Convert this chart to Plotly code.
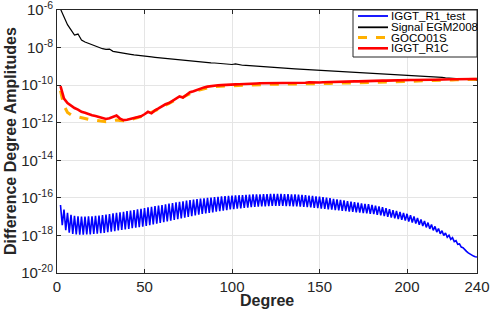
import plotly.graph_objects as go

# degrees sampled every 2 (for the smooth series)
deg_even = list(range(2, 241, 2))
deg_odd = list(range(3, 240, 2))

# log10 of degree amplitudes
signal_egm2008 = [-5.95, -6.4, -6.78, -7.06, -7.33, -7.28, -7.6, -7.7, -7.78, -7.86,
                  -7.92, -8.0, -8.06, -8.1, -8.08, -8.2, -8.24, -8.28, -8.3, -8.33,
                  -8.36, -8.39, -8.42, -8.45, -8.47, -8.49, -8.5, -8.52, -8.54, -8.56,
                  -8.58, -8.6, -8.62, -8.63, -8.65, -8.68, -8.7, -8.72, -8.74, -8.75,
                  -8.77, -8.78, -8.8, -8.81, -8.82, -8.84, -8.85, -8.87, -8.88, -8.9,
                  -8.87, -8.92, -8.94, -8.95, -8.97, -8.98, -8.99, -9.01, -9.02, -9.03,
                  -9.04, -9.06, -9.07, -9.08, -9.09, -9.1, -9.12, -9.13, -9.14, -9.15,
                  -9.16, -9.17, -9.18, -9.19, -9.2, -9.21, -9.22, -9.23, -9.24, -9.25,
                  -9.27, -9.28, -9.29, -9.3, -9.31, -9.32, -9.33, -9.34, -9.35, -9.36,
                  -9.37, -9.38, -9.39, -9.4, -9.42, -9.43, -9.44, -9.45, -9.46, -9.47,
                  -9.49, -9.5, -9.51, -9.52, -9.53, -9.55, -9.56, -9.57, -9.58, -9.59,
                  -9.61, -9.62, -9.63, -9.64, -9.65, -9.67, -9.68, -9.7, -9.72, -9.75]

iggt_r1c = [-10.05, -10.72, -10.95, -11.08, -11.22, -11.3, -11.42, -11.47, -11.55, -11.6,
            -11.64, -11.7, -11.74, -11.8, -11.76, -11.68, -11.62, -11.78, -11.86, -11.84,
            -11.8, -11.74, -11.7, -11.66, -11.55, -11.42, -11.5, -11.34, -11.24, -11.12,
            -11.02, -10.95, -10.84, -10.74, -10.6, -10.66, -10.5, -10.38, -10.32, -10.24,
            -10.2, -10.12, -10.08, -10.05, -10.03, -10.01, -10.0, -9.98, -9.99, -9.97,
            -9.96, -9.95, -9.95, -9.93, -9.94, -9.92, -9.91, -9.9, -9.9, -9.88,
            -9.89, -9.87, -9.88, -9.87, -9.86, -9.88, -9.87, -9.86, -9.87, -9.86,
            -9.87, -9.85, -9.86, -9.85, -9.86, -9.85, -9.84, -9.85, -9.84, -9.83,
            -9.84, -9.82, -9.82, -9.81, -9.8, -9.8, -9.79, -9.79, -9.78, -9.78,
            -9.77, -9.77, -9.76, -9.76, -9.75, -9.75, -9.75, -9.74, -9.74, -9.74,
            -9.73, -9.73, -9.72, -9.72, -9.72, -9.71, -9.71, -9.71, -9.7, -9.7,
            -9.7, -9.69, -9.69, -9.69, -9.68, -9.68, -9.68, -9.67, -9.67, -9.67]

goco01s = [-10.3, -11.1, -11.45, -11.58, -11.65, -11.7, -11.74, -11.78, -11.82, -11.85,
           -11.88, -11.92, -11.94, -11.95, -11.93, -11.9, -11.86, -11.88, -11.9, -11.88,
           -11.84, -11.78, -11.74, -11.68, -11.6, -11.5, -11.45, -11.38, -11.28, -11.16,
           -11.06, -10.98, -10.88, -10.78, -10.68, -10.64, -10.54, -10.43, -10.36, -10.29,
           -10.24, -10.17, -10.13, -10.1, -10.08, -10.06, -10.05, -10.04, -10.04, -10.03,
           -10.02, -10.01, -10.01, -10.0, -10.0, -9.99, -9.98, -9.97, -9.97, -9.96,
           -9.96, -9.95, -9.95, -9.95, -9.94, -9.95, -9.94, -9.94, -9.94, -9.93,
           -9.93, -9.92, -9.92, -9.92, -9.92, -9.91, -9.91, -9.91, -9.9, -9.9,
           -9.9, -9.89, -9.89, -9.88, -9.88, -9.87, -9.87, -9.86, -9.86, -9.85,
           -9.85, -9.84, -9.84, -9.83, -9.83, -9.82, -9.82, -9.81, -9.81, -9.8,
           -9.8, -9.79, -9.78, -9.78, -9.77, -9.76, -9.76, -9.75, -9.74, -9.74,
           -9.73, -9.72, -9.72, -9.71, -9.71, -9.7, -9.7, -9.69, -9.69, -9.69]

# IGGT_R1_test: even degrees (upper teeth) and odd degrees (lower teeth)
iggt_test_even = [-16.38, -16.62, -16.8, -16.9, -16.96, -16.99, -17.0, -17.0, -16.99, -16.98,
                  -16.96, -16.94, -16.92, -16.89, -16.86, -16.83, -16.8, -16.77, -16.74, -16.71,
                  -16.68, -16.65, -16.61, -16.58, -16.55, -16.51, -16.48, -16.44, -16.41, -16.38,
                  -16.35, -16.31, -16.28, -16.24, -16.21, -16.18, -16.15, -16.12, -16.09, -16.06,
                  -16.04, -16.02, -16.0, -15.98, -15.96, -15.94, -15.92, -15.91, -15.89, -15.88,
                  -15.87, -15.86, -15.85, -15.84, -15.83, -15.82, -15.81, -15.81, -15.8, -15.8,
                  -15.79, -15.79, -15.79, -15.79, -15.8, -15.8, -15.81, -15.82, -15.83, -15.84,
                  -15.86, -15.88, -15.9, -15.92, -15.94, -15.96, -15.99, -16.02, -16.05, -16.08,
                  -16.11, -16.14, -16.17, -16.2, -16.23, -16.26, -16.29, -16.32, -16.34, -16.37,
                  -16.41, -16.45, -16.5, -16.55, -16.6, -16.65, -16.7, -16.75, -16.8, -16.85,
                  -16.92, -16.99, -17.07, -17.15, -17.23, -17.32, -17.42, -17.52, -17.63, -17.75,
                  -17.87, -17.99, -18.12, -18.28, -18.45, -18.65, -18.85, -19.0, -19.1, -19.15]

iggt_test_odd = [-17.45, -17.72, -17.85, -17.92, -17.95, -17.96, -17.96, -17.95, -17.94, -17.92,
                 -17.9, -17.88, -17.86, -17.83, -17.8, -17.77, -17.74, -17.71, -17.68, -17.65,
                 -17.62, -17.59, -17.56, -17.53, -17.49, -17.45, -17.41, -17.37, -17.33, -17.29,
                 -17.25, -17.21, -17.17, -17.13, -17.09, -17.05, -17.01, -16.97, -16.93, -16.89,
                 -16.86, -16.83, -16.8, -16.77, -16.74, -16.71, -16.68, -16.65, -16.62, -16.6,
                 -16.58, -16.56, -16.54, -16.52, -16.5, -16.48, -16.47, -16.46, -16.45, -16.44,
                 -16.43, -16.43, -16.43, -16.43, -16.44, -16.44, -16.45, -16.46, -16.47, -16.48,
                 -16.5, -16.51, -16.53, -16.55, -16.57, -16.59, -16.61, -16.63, -16.65, -16.67,
                 -16.69, -16.71, -16.73, -16.75, -16.77, -16.79, -16.81, -16.83, -16.85, -16.87,
                 -16.9, -16.93, -16.97, -17.01, -17.05, -17.09, -17.13, -17.17, -17.21, -17.26,
                 -17.31, -17.37, -17.43, -17.5, -17.57, -17.65, -17.73, -17.82, -17.91, -18.0,
                 -18.1, -18.21, -18.33, -18.47, -18.62, -18.78, -18.93, -19.05, -19.13]

x_tick_vals = [0, 50, 100, 150, 200, 240]
y_tick_exps = [-20, -18, -16, -14, -12, -10, -8, -6]
legend_names = ["IGGT_R1_test", "Signal EGM2008", "GOCO01S", "IGGT_R1C"]
colors = ["#0000FF", "#000000", "#FFB000", "#FF0000"]
widths = [1.6, 1.2, 3, 2.6]
dashes = ["solid", "solid", "dash", "solid"]

# interleave even/odd degrees of the test series
test_deg, test_val = [], []
for i, d in enumerate(deg_even):
    test_deg.append(d)
    test_val.append(10 ** iggt_test_even[i])
    if i < len(deg_odd):
        test_deg.append(deg_odd[i])
        test_val.append(10 ** iggt_test_odd[i])

pw = lambda arr: [10 ** v for v in arr]
series_x = [test_deg, deg_even, deg_even, deg_even]
series_y = [test_val, pw(signal_egm2008), pw(goco01s), pw(iggt_r1c)]

fig = go.Figure()
for name, xs, ys, c, w, d in zip(legend_names, series_x, series_y, colors, widths, dashes):
    fig.add_trace(go.Scatter(x=xs, y=ys, mode="lines", name=name,
                             line=dict(color=c, width=w, dash=d), showlegend=False))

font_family = "Liberation Sans, Arial, sans-serif"
axis_col = "#262626"

# plot area geometry in pixels (for the hand-drawn legend box)
L, R, T, B = 57, 477, 10, 273
PW, PH = R - L, B - T
px = lambda v: (v - L) / PW
py = lambda v: (B - v) / PH

shapes = [dict(type="rect", xref="paper", yref="paper",
               x0=px(353), x1=1.0, y0=py(57), y1=1.0,
               line=dict(color=axis_col, width=1), fillcolor="white", layer="above")]
annotations = []
entry_y = [16, 27.3, 37.6, 48.3]
for name, c, w, d, ey in zip(legend_names, colors, widths, dashes, entry_y):
    shapes.append(dict(type="line", xref="paper", yref="paper",
                       x0=px(358), x1=px(388), y0=py(ey), y1=py(ey),
                       line=dict(color=c, width=w if w > 2 else 1.8, dash=d), layer="above"))
    annotations.append(dict(text=name, xref="paper", yref="paper", x=px(389), y=py(ey),
                            xanchor="left", yanchor="middle", showarrow=False,
                            font=dict(size=11.5, color="#000000", family=font_family)))

annotations.append(dict(text="<b>Degree</b>", xref="paper", yref="paper",
                        x=0.5, y=py(300), xanchor="center", yanchor="middle", showarrow=False,
                        font=dict(size=16, color=axis_col, family=font_family)))
annotations.append(dict(text="<b>Difference Degree Amplitudes</b>", xref="paper", yref="paper",
                        x=px(10), y=py(141), xanchor="center", yanchor="middle", showarrow=False,
                        textangle=-90,
                        font=dict(size=16, color=axis_col, family=font_family)))

fig.update_layout(
    width=491, height=311,
    margin=dict(l=L, r=491 - R, t=T, b=311 - B, autoexpand=False),
    paper_bgcolor="white", plot_bgcolor="white",
    font=dict(family=font_family, size=15, color=axis_col),
    showlegend=False,
    shapes=shapes, annotations=annotations,
)
fig.update_xaxes(range=[0, 240], tickvals=x_tick_vals, ticktext=[str(v) for v in x_tick_vals],
                 showgrid=True, gridcolor="#e5e5e5", gridwidth=1,
                 showline=True, linecolor=axis_col, linewidth=1, mirror="ticks",
                 ticks="inside", ticklen=4, tickcolor=axis_col,
                 zeroline=False, automargin=False, ticklabeloverflow="allow",
                 tickfont=dict(size=15))
fig.update_yaxes(type="log", range=[-20, -6],
                 tickvals=[10 ** e for e in y_tick_exps],
                 ticktext=[f"10<sup>{e}</sup>" for e in y_tick_exps],
                 showgrid=True, gridcolor="#e5e5e5", gridwidth=1,
                 showline=True, linecolor=axis_col, linewidth=1, mirror="ticks",
                 ticks="inside", ticklen=4, tickcolor=axis_col,
                 zeroline=False, automargin=False, ticklabeloverflow="allow",
                 tickfont=dict(size=15))

fig.write_html("out.html", config={"displayModeBar": False},
               post_script="document.body.style.margin='0';document.body.style.padding='0';")
